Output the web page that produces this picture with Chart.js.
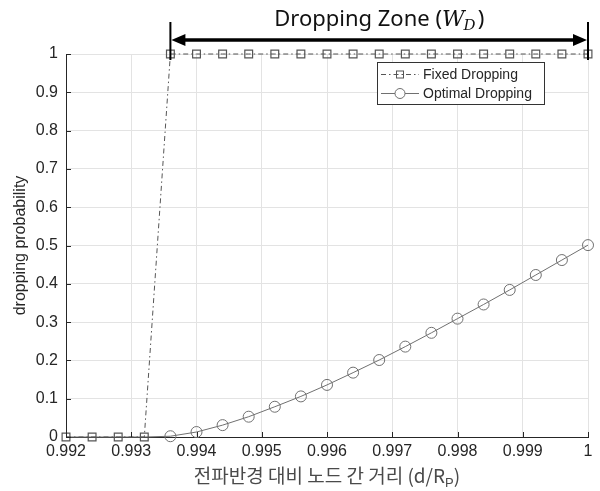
<!DOCTYPE html>
<html>
<head>
<meta charset="utf-8">
<script src="https://cdn.jsdelivr.net/npm/chart.js@4/dist/chart.umd.min.js"></script>
<style>
html,body{margin:0;padding:0;background:#fff;}
#wrap{width:600px;height:491px;position:relative;}
</style>
</head>
<body>
<div id="wrap"><canvas id="c" width="600" height="491"></canvas></div>
<script>
// ---- data ----
const distance = [0.992, 0.9924, 0.9928, 0.9932, 0.9936, 0.994, 0.9944, 0.9948, 0.9952, 0.9956, 0.996,
                  0.9964, 0.9968, 0.9972, 0.9976, 0.998, 0.9984, 0.9988, 0.9992, 0.9996, 1.0];
const fixedDropping = [0, 0, 0, 0, 1, 1, 1, 1, 1, 1, 1, 1, 1, 1, 1, 1, 1, 1, 1, 1, 1];
const optimalDropping = [0, 0, 0, 0, 0.002, 0.013, 0.031, 0.053, 0.079, 0.106, 0.136,
                         0.168, 0.201, 0.236, 0.272, 0.309, 0.346, 0.384, 0.423, 0.462, 0.501];
const xTickValues = [0.992, 0.993, 0.994, 0.995, 0.996, 0.997, 0.998, 0.999, 1];
const yTickValues = [0, 0.1, 0.2, 0.3, 0.4, 0.5, 0.6, 0.7, 0.8, 0.9, 1];
const seriesNames = ['Fixed Dropping', 'Optimal Dropping'];
const titleText = 'Dropping Zone (';
const xTitleText = '전파반경 대비 노드 간 거리 (d/R';
const yTitleText = 'dropping probability';

const toPts = (ys) => distance.map((x, i) => ({x: x, y: ys[i]}));
const fmt = v => String(Number(v.toFixed(4)));

const FIXED_COLOR = '#555555';
const OPT_COLOR = '#707070';
const TXT = '#262626';

const overlay = {
  id: 'overlay',
  afterDraw(chart) {
    const ctx = chart.ctx;
    const xs = chart.scales.x, ys = chart.scales.y;
    const area = chart.chartArea;
    ctx.save();
    // inward ticks
    ctx.strokeStyle = TXT; ctx.lineWidth = 1;
    ctx.beginPath();
    xTickValues.forEach(v => {
      const px = Math.round(xs.getPixelForValue(v)) + 0.5;
      ctx.moveTo(px, area.bottom); ctx.lineTo(px, area.bottom - 5);
    });
    yTickValues.forEach(v => {
      const py = Math.round(ys.getPixelForValue(v)) + 0.5;
      ctx.moveTo(area.left, py); ctx.lineTo(area.left + 5, py);
    });
    ctx.stroke();

    // dropping zone arrow
    const zStart = distance[fixedDropping.indexOf(1)];
    const zEnd = distance[distance.length - 1];
    const x1 = xs.getPixelForValue(zStart), x2 = xs.getPixelForValue(zEnd);
    const ay = 40;
    ctx.strokeStyle = '#000'; ctx.fillStyle = '#000';
    ctx.lineWidth = 2;
    ctx.beginPath();
    ctx.moveTo(x1, 22); ctx.lineTo(x1, 60);
    ctx.moveTo(x2, 22); ctx.lineTo(x2, 60);
    ctx.stroke();
    ctx.lineWidth = 3.5;
    ctx.beginPath();
    ctx.moveTo(x1 + 12, ay); ctx.lineTo(x2 - 12, ay);
    ctx.stroke();
    ctx.beginPath();
    ctx.moveTo(x1 + 1, ay); ctx.lineTo(x1 + 15, ay - 6); ctx.lineTo(x1 + 15, ay + 6); ctx.closePath();
    ctx.moveTo(x2 - 1, ay); ctx.lineTo(x2 - 15, ay - 6); ctx.lineTo(x2 - 15, ay + 6); ctx.closePath();
    ctx.fill();

    // title text
    const fMain = '22px "Noto Sans", "Open Sans", sans-serif';
    const fW = 'italic 22px "DejaVu Serif", "Liberation Serif", serif';
    const fD = 'italic 15px "DejaVu Serif", "Liberation Serif", serif';
    ctx.textBaseline = 'alphabetic';
    ctx.font = fMain; const w1 = ctx.measureText(titleText).width; const w4 = ctx.measureText(')').width;
    ctx.font = fW; const w2 = ctx.measureText('W').width;
    ctx.font = fD; const w3 = ctx.measureText('D').width;
    const total = w1 + w2 + w3 + 1 + w4;
    let tx = (x1 + x2) / 2 - total / 2;
    const ty = 26;
    ctx.fillStyle = '#111';
    ctx.font = fMain; ctx.fillText(titleText, tx, ty); tx += w1;
    ctx.font = fW; ctx.fillText('W', tx, ty); tx += w2 - 1;
    ctx.font = fD; ctx.fillText('D', tx, ty + 4); tx += w3 + 2;
    ctx.font = fMain; ctx.fillText(')', tx, ty);

    // legend
    const lx = 377, ly = 62, lw = 167, lh = 42;
    ctx.fillStyle = '#fff';
    ctx.fillRect(lx, ly, lw, lh);
    ctx.strokeStyle = '#333'; ctx.lineWidth = 1;
    ctx.strokeRect(lx + 0.5, ly + 0.5, lw, lh);
    const rows = [ly + 12.5, ly + 31.5];
    // fixed sample
    ctx.strokeStyle = FIXED_COLOR; ctx.lineWidth = 1;
    ctx.setLineDash([5, 3, 1.5, 3]);
    ctx.beginPath(); ctx.moveTo(lx + 4, rows[0]); ctx.lineTo(lx + 42, rows[0]); ctx.stroke();
    ctx.setLineDash([]);
    ctx.strokeRect(lx + 23 - 3.5, rows[0] - 3.5, 7, 7);
    // optimal sample
    ctx.strokeStyle = OPT_COLOR;
    ctx.beginPath(); ctx.moveTo(lx + 4, rows[1]); ctx.lineTo(lx + 42, rows[1]); ctx.stroke();
    ctx.fillStyle = '#fff';
    ctx.beginPath(); ctx.arc(lx + 23, rows[1], 5, 0, Math.PI * 2); ctx.fill(); ctx.stroke();
    ctx.fillStyle = TXT;
    ctx.font = '14px "Liberation Sans", Arial, sans-serif';
    ctx.textBaseline = 'middle';
    ctx.fillText(seriesNames[0], lx + 46, rows[0] + 1);
    ctx.fillText(seriesNames[1], lx + 46, rows[1] + 1);

    // y title
    ctx.save();
    ctx.translate(21, (area.top + area.bottom) / 2);
    ctx.rotate(-Math.PI / 2);
    ctx.textAlign = 'center'; ctx.textBaseline = 'middle';
    ctx.font = '16px "Liberation Sans", Arial, sans-serif';
    ctx.fillStyle = TXT;
    ctx.fillText(yTitleText, 0, 0);
    ctx.restore();

    // x title
    const fK = '19px "Noto Sans CJK KR", sans-serif';
    const fP = '13px "Liberation Sans", Arial, sans-serif';
    ctx.font = fK; const k1 = ctx.measureText(xTitleText).width; const k3 = ctx.measureText(')').width;
    ctx.font = fP; const k2 = ctx.measureText('P').width;
    const kt = k1 + k2 + k3;
    let kx = (area.left + area.right) / 2 - kt / 2;
    const kyy = 476;
    ctx.fillStyle = '#4a4a4a';
    ctx.textBaseline = 'middle'; ctx.textAlign = 'left';
    ctx.font = fK; ctx.fillText(xTitleText, kx, kyy); kx += k1;
    ctx.font = fP; ctx.fillText('P', kx, kyy + 7); kx += k2;
    ctx.font = fK; ctx.fillText(')', kx, kyy);
    ctx.restore();
  }
};

new Chart(document.getElementById('c'), {
  type: 'line',
  data: {
    datasets: [
      {
        label: seriesNames[0],
        data: toPts(fixedDropping),
        borderColor: FIXED_COLOR,
        borderWidth: 1,
        borderDash: [5, 3, 1.5, 3],
        pointStyle: 'rect',
        pointRadius: 5.5,
        pointBorderColor: FIXED_COLOR,
        pointBackgroundColor: 'rgba(0,0,0,0)',
        pointBorderWidth: 1.2,
        tension: 0,
        clip: false,
        order: 1
      },
      {
        label: seriesNames[1],
        data: toPts(optimalDropping),
        borderColor: OPT_COLOR,
        borderWidth: 1,
        pointStyle: 'circle',
        pointRadius: (c) => (c.dataIndex < 4 ? 0 : 5.5),
        pointBorderColor: OPT_COLOR,
        pointBackgroundColor: 'rgba(0,0,0,0)',
        pointBorderWidth: 1,
        tension: 0,
        clip: false,
        order: 2
      }
    ]
  },
  options: {
    responsive: false,
    animation: false,
    layout: {padding: {top: 54, right: 12, left: 0, bottom: 0}},
    plugins: {legend: {display: false}, tooltip: {enabled: false}, title: {display: false}},
    scales: {
      x: {
        type: 'linear',
        min: 0.992, max: 1,
        afterBuildTicks: (s) => { s.ticks = xTickValues.map(v => ({value: v})); },
        afterFit: (s) => { s.height = 54; },
        ticks: {
          callback: (v) => fmt(v),
          color: TXT,
          font: {family: '"Liberation Sans", Arial, sans-serif', size: 16},
          padding: 5,
          maxRotation: 0,
          autoSkip: false
        },
        grid: {color: '#e3e3e3', drawTicks: false, lineWidth: 1},
        border: {display: true, color: TXT, width: 1}
      },
      y: {
        min: 0, max: 1,
        afterBuildTicks: (s) => { s.ticks = yTickValues.map(v => ({value: v})); },
        afterFit: (s) => { s.width = 66; },
        ticks: {
          callback: (v) => fmt(v),
          color: TXT,
          font: {family: '"Liberation Sans", Arial, sans-serif', size: 16},
          padding: 8
        },
        grid: {color: '#e3e3e3', drawTicks: false, lineWidth: 1},
        border: {display: true, color: TXT, width: 1}
      }
    }
  },
  plugins: [overlay]
});
</script>
</body>
</html>
